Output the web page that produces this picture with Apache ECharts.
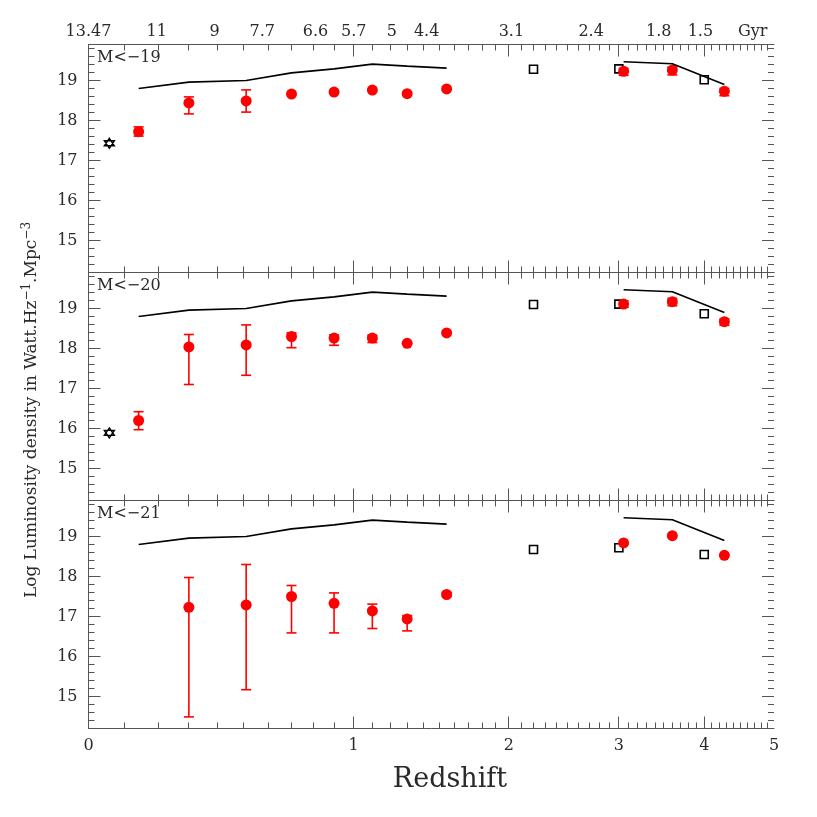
<!DOCTYPE html>
<html><head><meta charset="utf-8">
<script src="https://cdn.jsdelivr.net/npm/echarts@6/dist/echarts.min.js"></script>
<style>html,body{margin:0;padding:0;background:#fff}#c{width:817px;height:817px}</style>
</head><body><div id="c"></div>
<script>
// ---------------- data ----------------
const zRed    = [0.14, 0.30, 0.51, 0.70, 0.90, 1.10, 1.30, 1.55, 3.05, 3.60, 4.27];
const zModelA = [0.14, 0.30, 0.51, 0.70, 0.90, 1.10, 1.30, 1.55];
const modelA  = [18.80, 18.96, 19.00, 19.19, 19.29, 19.41, 19.36, 19.31];
const zModelB = [3.05, 3.60, 4.27];
const modelB  = [19.47, 19.42, 18.90];
const zSquare = [2.2, 3.0, 4.0];
const zStar   = [0.056];

const red19   = [17.72, 18.44, 18.49, 18.66, 18.71, 18.76, 18.67, 18.79, 19.23, 19.26, 18.73];
const red19Lo = [17.61, 18.165, 18.21, 18.66, 18.71, 18.76, 18.67, 18.79, 19.13, 19.14, 18.62];
const red19Hi = [17.84, 18.59, 18.765, 18.66, 18.71, 18.76, 18.67, 18.79, 19.30, 19.33, 18.80];
const sq19    = [19.28, 19.29, 19.02];
const star19  = [17.43];

const red20   = [16.20, 18.04, 18.09, 18.30, 18.26, 18.26, 18.13, 18.39, 19.11, 19.17, 18.67];
const red20Lo = [15.97, 17.10, 17.33, 18.02, 18.08, 18.15, 18.13, 18.39, 19.03, 19.07, 18.58];
const red20Hi = [16.42, 18.35, 18.59, 18.39, 18.34, 18.33, 18.13, 18.39, 19.19, 19.25, 18.74];
const sq20    = [19.10, 19.11, 18.87];
const star20  = [15.89];

const red21   = [null, 17.23, 17.29, 17.50, 17.33, 17.14, 16.94, 17.55, 18.84, 19.02, 18.53];
const red21Lo = [null, 14.49, 15.17, 16.59, 16.59, 16.70, 16.64, 17.50, 18.84, 19.02, 18.53];
const red21Hi = [null, 17.975, 18.30, 17.775, 17.59, 17.31, 17.02, 17.60, 18.84, 19.02, 18.53];
const sq21    = [18.675, 18.72, 18.55];
const star21  = [];

const panelLabels = ['M<\u221219', 'M<\u221220', 'M<\u221221'];
const zMajorTicks = [0, 1, 2, 3, 4, 5];
const zMinorTicks = [0.1,0.2,0.3,0.4,0.5,0.6,0.7,0.8,0.9,1.1,1.2,1.3,1.4,1.5,1.6,1.7,1.8,1.9,
  2.1,2.2,2.3,2.4,2.5,2.6,2.7,2.8,2.9,3.1,3.2,3.3,3.4,3.5,3.6,3.7,3.8,3.9,
  4.1,4.2,4.3,4.4,4.5,4.6,4.7,4.8,4.9];
const ageLabels = ['13.47','11','9','7.7','6.6','5.7','5','4.4','3.1','2.4','1.8','1.5','Gyr'];
const ageZ      = [0, 0.195, 0.39, 0.575, 0.81, 1.0, 1.21, 1.42, 2.02, 2.72, 3.44, 3.95, 4.675];
const yMajorTicks = [15, 16, 17, 18, 19];
const yMinorTicks = [14.4,14.6,14.8,15.2,15.4,15.6,15.8,16.2,16.4,16.6,16.8,17.2,17.4,17.6,17.8,
  18.2,18.4,18.6,18.8,19.2,19.4,19.6,19.8];

const panels = [
  {v: red19, lo: red19Lo, hi: red19Hi, sq: sq19, star: star19},
  {v: red20, lo: red20Lo, hi: red20Hi, sq: sq20, star: star20},
  {v: red21, lo: red21Lo, hi: red21Hi, sq: sq21, star: star21}
];

// ---------------- layout ----------------
const toX = z => Math.log10(1 + z);
const XMAX = Math.log10(6);
const YMIN = 14.2, YMAX = 19.9;
const FONT = 'DejaVu Serif';
const AX = '#555';
const TXT = '#2a2a2a';
const gridTops = [44.5, 272.5, 500.5];
const GH = 228;
const LEFT = 88.5, RIGHT = 43;
const MAJ_LEN = 12, MIN_LEN = 6;

const grids = gridTops.map(t => ({left: LEFT, right: RIGHT, top: t, height: GH, show: false}));
const xAxes = [], yAxes = [], series = [], graphics = [];
const bx = [], ly = [];

function xLineAxis(g, pos, label) {
  xAxes.push({
    gridIndex: g, type: 'value', position: pos, min: 0, max: XMAX,
    axisLine: {show: true, lineStyle: {color: AX, width: 1}},
    axisTick: {show: false}, axisLabel: label || {show: false}, splitLine: {show: false}
  });
  return xAxes.length - 1;
}
function yLineAxis(g, pos, label) {
  yAxes.push({
    gridIndex: g, type: 'value', position: pos, min: YMIN, max: YMAX,
    axisLine: {show: true, lineStyle: {color: AX, width: 1}},
    axisTick: {show: false}, axisLabel: label || {show: false}, splitLine: {show: false}
  });
  return yAxes.length - 1;
}

const majX = zMajorTicks.map(toX);
const minX = zMinorTicks.map(toX);
const ageX = ageZ.map(toX);

// tick marks on all four frame edges, pointing inwards (positions from the axes' scales)
const tickData = [];
zMajorTicks.forEach(z => { if (z > 0 && z < 5) tickData.push([toX(z), YMIN, 0]); });
zMinorTicks.forEach(z => tickData.push([toX(z), YMIN, 1]));
yMajorTicks.forEach(v => tickData.push([0, v, 2]));
yMinorTicks.forEach(v => tickData.push([0, v, 3]));
const crisp = p => Math.round(p - 0.5) + 0.5;

function tickRender(params, api) {
  const kind = api.value(2);
  const st = {stroke: AX, lineWidth: 1};
  if (kind < 2) {
    const v = api.value(0);
    const b = api.coord([v, YMIN]), t = api.coord([v, YMAX]);
    const L = kind === 0 ? MAJ_LEN : MIN_LEN;
    const x = crisp(b[0]);
    return {type: 'group', children: [
      {type: 'line', shape: {x1: x, y1: b[1], x2: x, y2: b[1] - L}, style: st},
      {type: 'line', shape: {x1: x, y1: t[1], x2: x, y2: t[1] + L}, style: st}
    ]};
  }
  const v = api.value(1);
  const l = api.coord([0, v]), r = api.coord([XMAX, v]);
  const L = kind === 2 ? MAJ_LEN : MIN_LEN;
  const y = crisp(l[1]);
  return {type: 'group', children: [
    {type: 'line', shape: {x1: l[0], y1: y, x2: l[0] + L, y2: y}, style: st},
    {type: 'line', shape: {x1: r[0], y1: y, x2: r[0] - L, y2: y}, style: st}
  ]};
}

for (let g = 0; g < 3; g++) {
  bx[g] = xLineAxis(g, 'bottom', g === 2 ? {
    show: true, customValues: majX, margin: 9, color: TXT, fontFamily: FONT, fontSize: 16,
    formatter: v => String(Math.round(Math.pow(10, v) - 1))
  } : null);
  xLineAxis(g, 'top', g === 0 ? {
    show: true, customValues: ageX, margin: 5, color: TXT, fontFamily: FONT, fontSize: 16,
    formatter: v => { for (let i = 0; i < ageX.length; i++) if (Math.abs(ageX[i] - v) < 1e-6) return ageLabels[i]; return ''; }
  } : null);
  ly[g] = yLineAxis(g, 'left', {
    show: true, customValues: yMajorTicks, margin: 11, color: TXT, fontFamily: FONT, fontSize: 16
  });
  yLineAxis(g, 'right', null);

  const P = panels[g];
  const common = {xAxisIndex: bx[g], yAxisIndex: ly[g], animation: false, silent: true};
  series.push(Object.assign({type: 'custom', encode: {x: 0, y: 1}, data: tickData, renderItem: tickRender}, common));
  series.push(Object.assign({type: 'line', symbol: 'none', lineStyle: {color: '#000', width: 1.6},
    data: zModelA.map((z, i) => [toX(z), modelA[i]])}, common));
  series.push(Object.assign({type: 'line', symbol: 'none', lineStyle: {color: '#000', width: 1.6},
    data: zModelB.map((z, i) => [toX(z), modelB[i]])}, common));
  series.push(Object.assign({type: 'scatter', symbol: 'rect', symbolSize: 8,
    itemStyle: {color: 'rgba(255,255,255,0)', borderColor: '#000', borderWidth: 1.6, opacity: 1},
    data: zSquare.map((z, i) => [toX(z), P.sq[i]])}, common));
  if (P.star.length) {
    series.push(Object.assign({type: 'scatter',
      symbol: 'path://M0,-10 L8.66,5 L-8.66,5 Z M0,10 L8.66,-5 L-8.66,-5 Z', symbolSize: 10,
      itemStyle: {color: 'rgba(255,255,255,0)', borderColor: '#000', borderWidth: 1.4, opacity: 1},
      data: zStar.map((z, i) => [toX(z), P.star[i]])}, common));
  }
  const errData = [];
  zRed.forEach((z, i) => {
    if (P.v[i] != null && P.hi[i] - P.lo[i] > 0.001) errData.push([toX(z), P.lo[i], P.hi[i]]);
  });
  series.push(Object.assign({type: 'custom', encode: {x: 0, y: [1, 2]}, data: errData,
    renderItem: (params, api) => {
      const x = api.value(0);
      const a = api.coord([x, api.value(1)]);
      const b = api.coord([x, api.value(2)]);
      const hw = 5;
      const st = {stroke: '#ff0000', lineWidth: 1.6};
      return {type: 'group', children: [
        {type: 'line', shape: {x1: a[0], y1: a[1], x2: b[0], y2: b[1]}, style: st},
        {type: 'line', shape: {x1: a[0] - hw, y1: a[1], x2: a[0] + hw, y2: a[1]}, style: st},
        {type: 'line', shape: {x1: b[0] - hw, y1: b[1], x2: b[0] + hw, y2: b[1]}, style: st}
      ]};
    }}, common));
  const dots = [];
  zRed.forEach((z, i) => { if (P.v[i] != null) dots.push([toX(z), P.v[i]]); });
  series.push(Object.assign({type: 'scatter', symbol: 'circle', symbolSize: 11,
    itemStyle: {color: '#ff0000', opacity: 1}, data: dots}, common));

  graphics.push({type: 'text', left: 97, top: gridTops[g] + 5,
    style: {text: panelLabels[g], fill: TXT, font: '16px "DejaVu Serif"'}});
}

graphics.push({type: 'text', x: 450, y: 780,
  style: {text: 'Redshift', fill: TXT, font: '27px "DejaVu Serif"', align: 'center', verticalAlign: 'middle'}});
graphics.push({type: 'text', x: 30, y: 410, rotation: Math.PI / 2,
  style: {
    text: '{a|Log Luminosity density in Watt.Hz}{s|\u22121}{a|.Mpc}{s|\u22123}',
    align: 'center', verticalAlign: 'middle',
    rich: {
      a: {fontSize: 17, fontFamily: FONT, fill: TXT, lineHeight: 20, verticalAlign: 'bottom'},
      s: {fontSize: 12, fontFamily: FONT, fill: TXT, lineHeight: 20, verticalAlign: 'bottom', padding: [0, 0, 7, 0]}
    }
  }});

const chart = echarts.init(document.getElementById('c'), null, {renderer: 'canvas'});
chart.setOption({
  animation: false,
  backgroundColor: '#fff',
  grid: grids,
  xAxis: xAxes,
  yAxis: yAxes,
  series: series,
  graphic: graphics
});
</script>
</body></html>
